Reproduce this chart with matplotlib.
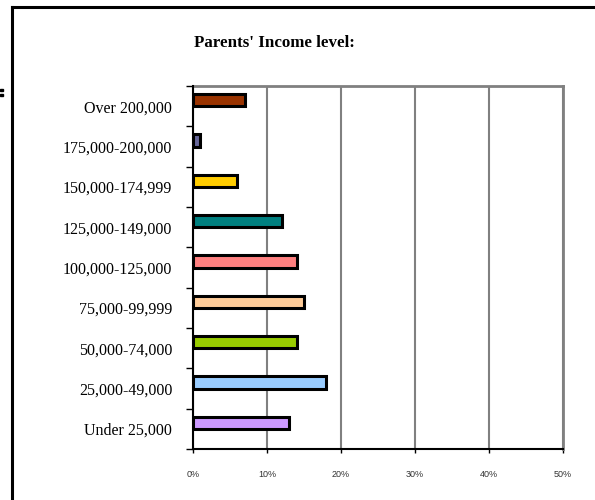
import matplotlib
matplotlib.use("Agg")
import matplotlib.pyplot as plt
from matplotlib.patches import Rectangle
from matplotlib.lines import Line2D

# income brackets, bottom to top
categories = ['Under 25,000', '25,000-49,000', '50,000-74,000', '75,000-99,999',
              '100,000-125,000', '125,000-149,000', '150,000-174,999',
              '175,000-200,000', 'Over 200,000']
percent = [13, 18, 14, 15, 14, 12, 6, 1, 7]
colors = ['#CC99FF', '#99CCFF', '#99CC00', '#FFCC99', '#FF8080',
          '#008080', '#FFCC00', '#666699', '#993300']
xticks = [0, 10, 20, 30, 40, 50]
xtick_labels = ['0%', '10%', '20%', '30%', '40%', '50%']

fig = plt.figure(figsize=(5.95, 5.0), dpi=100)
ax = fig.add_axes([193 / 595, 1 - 449 / 500, 370 / 595, 363 / 500])

pos = list(range(len(categories)))
# bars sit a little above the middle of each slot, as in the original
ax.barh([p + 0.15 for p in pos], percent, height=0.3, color=colors, edgecolor='black',
        linewidth=2.2, zorder=3)

ax.set_xlim(0, 50)
ax.set_ylim(-0.5, len(categories) - 0.5)
ax.set_xticks(xticks)
ax.set_xticklabels(xtick_labels, fontsize=6.5, family='Liberation Sans', color='#333333')
ax.tick_params(axis='x', length=3, width=1, direction='out', pad=12, color='black')
ax.xaxis.grid(True, color='#808080', linewidth=1.5, zorder=1)

ax.set_yticks(pos)
ax.set_yticklabels(categories, fontsize=11.5, family='Liberation Serif')
ax.tick_params(axis='y', length=0, pad=15)
# tick marks between categories
ax.set_yticks([p - 0.5 for p in pos] + [len(categories) - 0.5], minor=True)
ax.tick_params(axis='y', which='minor', length=5, width=1, direction='out', color='black')

for s in ['top', 'right']:
    ax.spines[s].set_color('#808080')
    ax.spines[s].set_linewidth(2)
for s in ['left', 'bottom']:
    ax.spines[s].set_color('black')
    ax.spines[s].set_linewidth(1.5)
    ax.spines[s].set_zorder(4)

fig.text(274 / 595, 1 - 43 / 500, "Parents' Income level:", ha='center', va='center',
         fontsize=12.2, fontweight='bold', family='Liberation Serif')

# outer frame (top and left edges only visible)
fig.add_artist(Line2D([12 / 595, 1], [1 - 7 / 500, 1 - 7 / 500], color='black', linewidth=2.2))
fig.add_artist(Line2D([12 / 595, 12 / 595], [0, 1 - 7 / 500], color='black', linewidth=2.2))
# small marks at the left edge
fig.add_artist(Rectangle((0, 1 - 91 / 500), 3 / 595, 2 / 500, transform=fig.transFigure, color='black'))
fig.add_artist(Rectangle((0, 1 - 96 / 500), 3 / 595, 2 / 500, transform=fig.transFigure, color='black'))

fig.savefig("out.png", dpi=100)
